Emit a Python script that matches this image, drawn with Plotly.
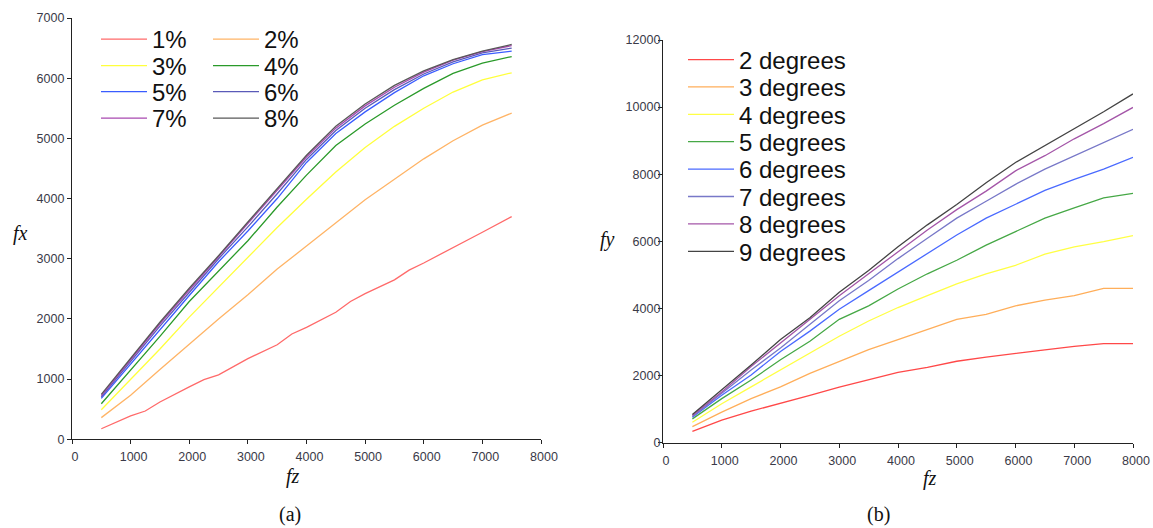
import plotly.graph_objects as go

W, H = 1153, 528

# ---------------- data (a) ----------------
fz_a = [500, 1000, 1500, 2000, 2500, 3000, 3500, 4000, 4500, 5000, 5500, 6000, 6500, 7000, 7500]
fz_a1 = [500, 1000, 1250, 1500, 2000, 2250, 2500, 3000, 3500, 3750, 4000, 4500, 4750, 5000, 5500, 5750, 6000, 6500, 7000, 7500]
names_a = ["1%", "2%", "3%", "4%", "5%", "6%", "7%", "8%"]
fx_1 = [175, 390, 470, 620, 870, 990, 1070, 1340, 1570, 1750, 1860, 2110, 2290, 2420, 2650, 2810, 2930, 3180, 3440, 3700]
fx_2 = [360, 730, 1160, 1580, 2000, 2400, 2830, 3210, 3600, 3980, 4320, 4660, 4960, 5220, 5420]
fx_3 = [490, 990, 1500, 2030, 2530, 3020, 3520, 3990, 4440, 4850, 5200, 5500, 5770, 5970, 6090]
fx_4 = [590, 1150, 1710, 2290, 2800, 3300, 3860, 4390, 4880, 5240, 5550, 5830, 6080, 6250, 6360]
fx_5 = [680, 1250, 1830, 2390, 2950, 3460, 4000, 4600, 5080, 5440, 5760, 6040, 6240, 6390, 6450]
fx_6 = [705, 1290, 1880, 2440, 3000, 3530, 4080, 4650, 5130, 5500, 5810, 6070, 6270, 6420, 6500]
fx_7 = [725, 1320, 1920, 2480, 3030, 3580, 4130, 4690, 5170, 5540, 5850, 6100, 6300, 6440, 6540]
fx_8 = [745, 1345, 1945, 2510, 3050, 3610, 4170, 4720, 5200, 5570, 5880, 6120, 6310, 6450, 6560]
series_a = [fx_1, fx_2, fx_3, fx_4, fx_5, fx_6, fx_7, fx_8]
xs_a = [fz_a1] + [fz_a] * 7
colors_a = ["#ff6a6a", "#ffb466", "#ffff3c", "#2a9a2a", "#3a5cff", "#5a5ab8", "#a848b0", "#585858"]

# ---------------- data (b) ----------------
fz_b = [500, 1000, 1500, 2000, 2500, 3000, 3500, 4000, 4500, 5000, 5500, 6000, 6500, 7000, 7500, 8000]
names_b = ["2 degrees", "3 degrees", "4 degrees", "5 degrees", "6 degrees", "7 degrees", "8 degrees", "9 degrees"]
fy_2 = [330, 670, 935, 1160, 1407, 1650, 1879, 2090, 2241, 2422, 2543, 2663, 2764, 2864, 2945, 2945]
fy_3 = [473, 905, 1308, 1660, 2062, 2414, 2767, 3068, 3370, 3672, 3823, 4074, 4245, 4376, 4598, 4598]
fy_4 = [604, 1157, 1660, 2163, 2666, 3169, 3622, 4024, 4376, 4728, 5030, 5282, 5614, 5835, 5986, 6167]
fy_5 = [704, 1308, 1861, 2465, 3018, 3672, 4074, 4577, 5030, 5433, 5885, 6288, 6690, 6992, 7294, 7425]
fy_6 = [755, 1408, 2012, 2716, 3320, 3974, 4527, 5080, 5634, 6187, 6690, 7093, 7515, 7847, 8149, 8501]
fy_7 = [775, 1459, 2163, 2817, 3521, 4225, 4829, 5483, 6087, 6690, 7193, 7696, 8149, 8551, 8954, 9336]
fy_8 = [805, 1509, 2264, 2968, 3672, 4376, 5030, 5684, 6338, 6942, 7495, 8099, 8551, 9054, 9507, 9990]
fy_9 = [835, 1560, 2314, 3068, 3722, 4477, 5131, 5835, 6489, 7093, 7746, 8350, 8853, 9356, 9859, 10392]
series_b = [fy_2, fy_3, fy_4, fy_5, fy_6, fy_7, fy_8, fy_9]
colors_b = ["#ff4848", "#ffae5a", "#ffff44", "#46a846", "#4a6aff", "#7878c8", "#a456a8", "#444444"]

xticks = [0, 1000, 2000, 3000, 4000, 5000, 6000, 7000, 8000]
yticks_a = [0, 1000, 2000, 3000, 4000, 5000, 6000, 7000]
yticks_b = [0, 2000, 4000, 6000, 8000, 10000, 12000]

fig = go.Figure()

# legend slots: left chart two columns of 4 rows, right chart one column of 8
left_rows = [39.5, 66, 92, 118.5]
left_cols = [101, 213]
right_rows = [60, 87.3, 114.7, 142.1, 169.5, 196.9, 224.3, 251.7]
right_col = 688
LEG_DY = 0
LEG_DX = 5

legends = {}
for i, (nm, xs, ys, c) in enumerate(zip(names_a, xs_a, series_a, colors_a)):
    key = "legend" if i == 0 else "legend%d" % (i + 1)
    fig.add_trace(go.Scatter(x=xs, y=ys, name=nm, mode="lines",
                             line=dict(color=c, width=1.3),
                             xaxis="x", yaxis="y", legend=key))
    legends[key] = (left_cols[i % 2] - LEG_DX, left_rows[i // 2] - LEG_DY)

for j, (nm, ys, c) in enumerate(zip(names_b, series_b, colors_b)):
    key = "legend%d" % (9 + j)
    fig.add_trace(go.Scatter(x=fz_b, y=ys, name=nm, mode="lines",
                             line=dict(color=c, width=1.3),
                             xaxis="x2", yaxis="y2", legend=key))
    legends[key] = (right_col - LEG_DX, right_rows[j] - LEG_DY)

tickfont = dict(family="Liberation Sans, Arial, sans-serif", size=12.5, color="#3a3a48")
axis_common = dict(showgrid=False, zeroline=False, showline=True, linecolor="#222",
                   linewidth=1.3, ticks="outside", ticklen=4, tickcolor="#222",
                   tickfont=tickfont, fixedrange=True, automargin=False)

layout = dict(
    width=W, height=H,
    margin=dict(l=0, r=0, t=0, b=0, autoexpand=False),
    paper_bgcolor="white", plot_bgcolor="white",
    xaxis=dict(domain=[72 / W, 541 / W], range=[0, 8000], tickvals=xticks,
               ticktext=[str(v) for v in xticks], anchor="y",
               ticklabelshift=3, ticklabelstandoff=2, **axis_common),
    yaxis=dict(domain=[1 - 439.3 / H, 1 - 18 / H], range=[0, 7000], tickvals=yticks_a,
               ticktext=[str(v) for v in yticks_a], anchor="x", **axis_common),
    xaxis2=dict(domain=[663 / W, 1133 / W], range=[0, 8000], tickvals=xticks,
                ticktext=[str(v) for v in xticks], anchor="y2",
                ticklabelshift=3, ticklabelstandoff=2, **axis_common),
    yaxis2=dict(domain=[1 - 442.5 / H, 1 - 40 / H], range=[0, 12000], tickvals=yticks_b,
                ticktext=[str(v) for v in yticks_b], anchor="x2",
                ticklabelstandoff=-5, **axis_common),
    showlegend=True,
)

legfont = dict(family="Liberation Sans, Arial, sans-serif", size=24, color="#111")
for key, (px, py) in legends.items():
    layout[key] = dict(x=px / W, y=1 - py / H, xanchor="left", yanchor="middle",
                       bgcolor="rgba(0,0,0,0)", borderwidth=0, font=legfont,
                       itemwidth=46, tracegroupgap=0)

fig.update_layout(**layout)

annots = [
    dict(text="<i>fx</i>", x=20 / W, y=1 - 233 / H),
    dict(text="<i>fz</i>", x=293 / W, y=1 - 476 / H),
    dict(text="<i>fy</i>", x=607 / W, y=1 - 239 / H),
    dict(text="<i>fz</i>", x=930 / W, y=1 - 478 / H),
    dict(text="(a)", x=290 / W, y=1 - 514 / H),
    dict(text="(b)", x=878 / W, y=1 - 514 / H),
]
for a in annots:
    fig.add_annotation(xref="paper", yref="paper", showarrow=False,
                       xanchor="center", yanchor="middle",
                       font=dict(family="Liberation Serif, serif", size=20, color="#111"), **a)

fig.write_html("out.html", config={"displayModeBar": False},
               post_script="document.body.style.margin='0';document.body.style.overflow='hidden';")
